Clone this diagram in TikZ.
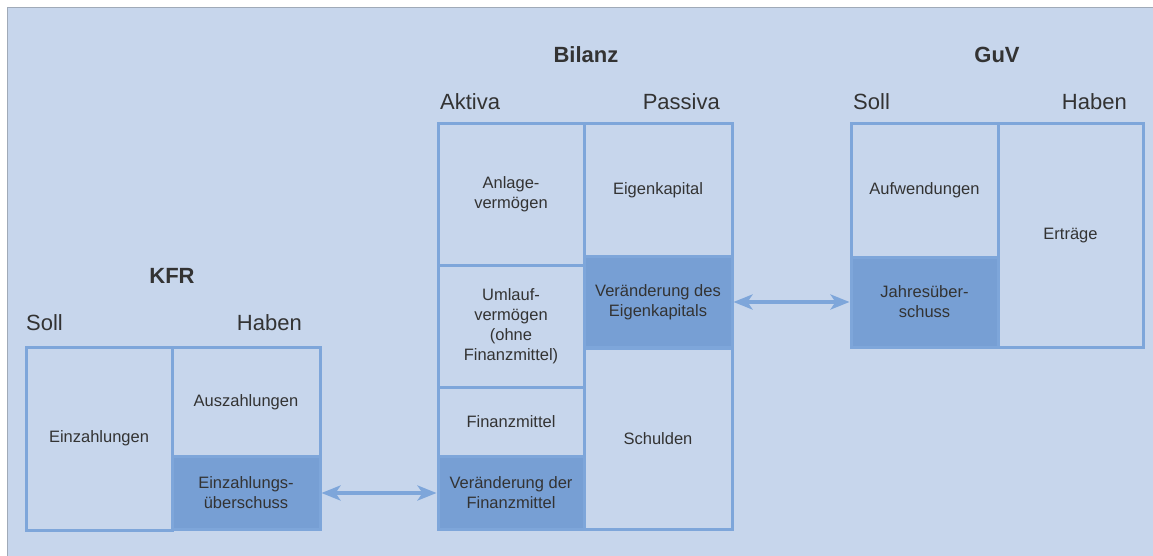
\documentclass[tikz,border=0pt]{standalone}
\usepackage{fontspec}
\setmainfont{Liberation Sans}
\usepackage{xcolor}
\usepackage{tikz}
\usetikzlibrary{positioning,arrows.meta}
\definecolor{paneblue}{HTML}{C7D6EC}
\definecolor{rulegray}{HTML}{A0AAB8}
\definecolor{cellline}{HTML}{7EA6DA}
\definecolor{cellfill}{HTML}{779FD4}
\definecolor{inkgray}{HTML}{333333}

\begin{document}
\begin{tikzpicture}[x=1pt,y=-1pt,
    cell/.style={draw=cellline,line width=3pt,inner sep=0pt,align=center,
      text=inkgray,font=\fontsize{16.5}{20}\selectfont},
    cellhi/.style={cell,fill=cellfill},
    side/.style={text=inkgray,inner sep=0pt,font=\fontsize{22}{24}\selectfont},
    head/.style={text=inkgray,inner sep=0pt,font=\fontsize{22}{24}\selectfont\bfseries},
    link/.style={cellline,line width=3.5pt,
      {Stealth[length=19pt,width=15pt,inset=5pt]}-{Stealth[length=19pt,width=15pt,inset=5pt]}}]
    \useasboundingbox (0,0) rectangle (1153,556);
    \fill[white] (0,0) rectangle (1153,556);
    \fill[paneblue] (7,8) rectangle (1153,556);
    \draw[rulegray,line width=1pt] (7,556) -- (7,8) -- (1153,8);

    % KFR
    \node[head,anchor=base] (kfrhead) at (172,283) {KFR};
    \node[side,anchor=base west] (kfrsoll) at (26,330) {Soll};
    \node[side,anchor=base east] (kfrhaben) at (302,330) {Haben};
    \node[cell,minimum width=146pt,minimum height=183pt] (kfrin) at (99,438.5) {Einzahlungen};
    \node[cell,minimum width=148pt,minimum height=110pt] (kfrout) at (246,402) {Auszahlungen};
    \node[cellhi,minimum width=148pt,minimum height=73pt] (kfrsur) at (246,493) {Einzahlungs-\\überschuss};

    % Bilanz
    \node[head,anchor=base] (bilhead) at (586,63) {Bilanz};
    \node[side,anchor=base west] (aktiva) at (440,110) {Aktiva};
    \node[side,anchor=base east] (passiva) at (720,110) {Passiva};
    \node[cell,minimum width=146pt,minimum height=141pt] (anlage) at (511,194.5) {Anlage-\\vermögen};
    \node[cell,minimum width=146pt,minimum height=122pt] (umlauf) at (511,326) {Umlauf-\\vermögen\\(ohne\\Finanzmittel)};
    \node[cell,minimum width=146pt,minimum height=69pt] (finmit) at (511,421.5) {Finanzmittel};
    \node[cellhi,minimum width=146pt,minimum height=73pt] (dfinmit) at (511,493) {Veränderung der\\Finanzmittel};
    \node[cell,minimum width=148pt,minimum height=133pt] (eigen) at (658,190.5) {Eigenkapital};
    \node[cellhi,minimum width=148pt,minimum height=91pt] (deigen) at (658,302) {Veränderung des\\Eigenkapitals};
    \node[cell,minimum width=148pt,minimum height=181pt] (schuld) at (658,438.5) {Schulden};

    % GuV
    \node[head,anchor=base] (guvhead) at (997,63) {GuV};
    \node[side,anchor=base west] (guvsoll) at (853,110) {Soll};
    \node[side,anchor=base east] (guvhaben) at (1127,110) {Haben};
    \node[cell,minimum width=147pt,minimum height=133pt] (aufw) at (924.5,190.5) {Aufwendungen};
    \node[cellhi,minimum width=147pt,minimum height=90pt] (jahres) at (924.5,302) {Jahresüber-\\schuss};
    \node[cell,minimum width=145pt,minimum height=223pt] (ertrag) at (1070.5,235.5) {Erträge};

    \draw[link] (kfrsur.east) -- (dfinmit.west);
    \draw[link] (deigen.east) -- (jahres.west);
  \end{tikzpicture}
\end{document}
